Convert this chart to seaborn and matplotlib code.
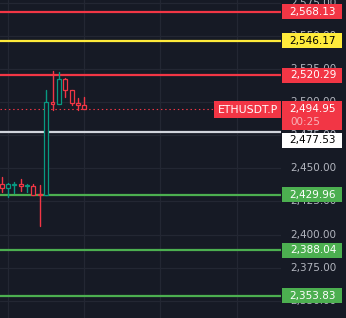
import matplotlib
matplotlib.use("Agg")
import matplotlib.pyplot as plt
import matplotlib.transforms as mtransforms
from matplotlib.patches import Rectangle
import numpy as np
import pandas as pd
import seaborn as sns

# ---------------- data ----------------
opens  = [2438.5, 2434.8, 2437.6, 2438.0, 2436.8, 2436.3, 2430.5, 2430.2, 2500.3, 2498.5, 2517.5, 2509.0, 2499.3, 2497.8]
closes = [2435.0, 2438.0, 2438.0, 2436.3, 2437.2, 2430.0, 2430.0, 2500.3, 2498.5, 2517.5, 2509.0, 2499.0, 2497.8, 2494.95]
highs  = [2443.5, 2438.8, 2439.5, 2441.7, 2438.5, 2438.0, 2437.2, 2509.3, 2523.5, 2522.8, 2518.5, 2509.0, 2503.0, 2504.0]
lows   = [2432.0, 2428.2, 2431.5, 2433.0, 2432.2, 2430.0, 2406.7, 2430.0, 2494.0, 2498.5, 2503.5, 2497.5, 2494.0, 2494.95]

level_prices = [2568.13, 2546.17, 2520.29, 2477.53, 2429.96, 2388.04, 2353.83]
level_labels = ["2,568.13", "2,546.17", "2,520.29", "2,477.53", "2,429.96", "2,388.04", "2,353.83"]
last_price = 2494.95
last_label = "2,494.95"
countdown = "00:25"
symbol = "ETHUSDT.P"
tick_values = [2350, 2375, 2400, 2425, 2450, 2475, 2500, 2525, 2550, 2575]
tick_labels = ["2,350.00", "2,375.00", "2,400.00", "2,425.00", "2,450.00",
               "2,475.00", "2,500.00", "2,525.00", "2,550.00", "2,575.00"]

# ---------------- style ----------------
BG = "#161a25"
GRID = "#232733"
UP = "#089981"
DOWN = "#f23645"
level_colors = [DOWN, "#ffeb3b", DOWN, "#d1d4dc", "#4caf50", "#4caf50", "#4caf50"]
box_colors = [DOWN, "#ffeb3b", DOWN, "#ffffff", "#4caf50", "#4caf50", "#4caf50"]
level_text = ["white", "black", "white", "black", "white", "white", "white"]
box_shift = [0, 0, 0, 8.5, 0, 0, 0]   # px pushed down to avoid overlap

sns.set_theme(style="dark", rc={"axes.facecolor": BG, "figure.facecolor": BG})
plt.rcParams["font.family"] = ["DejaVu Sans"]

W, H = 346, 318
fig = plt.figure(figsize=(W / 100, H / 100), dpi=100)
ax = fig.add_axes([0, 0, 281 / W, 1])
ax.set_facecolor(BG)

idx = np.arange(len(opens))
df = pd.DataFrame({"i": idx, "open": opens, "close": closes, "high": highs, "low": lows})
df["dir"] = np.where(df["close"] >= df["open"], "up", "down")

# wicks through seaborn
wick = pd.concat([
    df[["i", "high", "dir"]].rename(columns={"high": "p"}),
    df[["i", "low", "dir"]].rename(columns={"low": "p"}),
]).sort_values(["i"])
sns.lineplot(data=wick, x="i", y="p", units="i", estimator=None, hue="dir",
             palette={"up": UP, "down": DOWN}, sort=False, lw=1.0,
             legend=False, ax=ax, zorder=3)

# bodies (hollow)
bottoms = np.minimum(df["open"], df["close"])
heights = np.maximum(np.abs(df["close"] - df["open"]), 0.3)
cols = [UP if d == "up" else DOWN for d in df["dir"]]
ax.bar(df["i"], heights, bottom=bottoms, width=0.62, facecolor=BG,
       edgecolor=cols, linewidth=0.9, zorder=4)

# grid
for t in tick_values:
    ax.axhline(t, color=GRID, lw=0.9, zorder=0.5)
for xv in [1, 13, 25, 37]:
    ax.axvline(xv, color=GRID, lw=0.9, zorder=0.5)

# level lines
for p, c in zip(level_prices, level_colors):
    ax.axhline(p, color=c, lw=1.6, zorder=2)

# current price dotted line
ax.axhline(last_price, color=DOWN, lw=0.8, linestyle=(0, (1.3, 2.5)), zorder=2)

ax.set_xlim(-0.27, 43.98)
ax.set_ylim(2337.0, 2577.04)
ax.set_xticks([])
ax.set_yticks([])
for s in ax.spines.values():
    s.set_visible(False)

# price scale tick labels
ytr = mtransforms.blended_transform_factory(fig.transFigure, ax.transData)
for v, lab in zip(tick_values, tick_labels):
    fig.text(290 / W, v, lab, transform=ytr, color="#b2b5be", fontsize=7.5,
             ha="left", va="center", zorder=1)

px = 1 / 1.3248  # data units per pixel
box_x0 = 282 / W
box_w = 60 / W

def price_box(p, label, fc, tc, shift=0, h=15):
    c = p - shift * px
    r = Rectangle((box_x0, c - h / 2 * px), box_w, h * px, transform=ytr,
                  facecolor=fc, edgecolor="none", zorder=5, clip_on=False)
    fig.add_artist(r)
    fig.text(313 / W, c, label, transform=ytr, color=tc, fontsize=7.5,
             ha="center", va="center", zorder=6)

for p, lab, c, tc, sh in zip(level_prices, level_labels, box_colors, level_text, box_shift):
    price_box(p, lab, c, tc, sh)

# current price two-line box
top = last_price + 7.75 * px
r = Rectangle((box_x0, top - 29 * px), box_w, 29 * px, transform=ytr,
              facecolor=DOWN, edgecolor="none", zorder=5)
fig.add_artist(r)
fig.text(313 / W, last_price, last_label, transform=ytr, color="white",
         fontsize=7.5, ha="center", va="center", zorder=6)
fig.text(290 / W, last_price - 13.5 * px, countdown, transform=ytr, color="#f7b3b9",
         fontsize=7.5, ha="left", va="center", zorder=6)

# symbol label
r = Rectangle((214 / W, last_price - 9.25 * px), 67 / W, 17 * px, transform=ytr,
              facecolor=DOWN, edgecolor="none", zorder=5)
fig.add_artist(r)
fig.text(248 / W, last_price - 0.75 * px, symbol, transform=ytr, color="white",
         fontsize=7.8, ha="center", va="center", zorder=6)

fig.savefig("out.png", dpi=100, facecolor=BG)
